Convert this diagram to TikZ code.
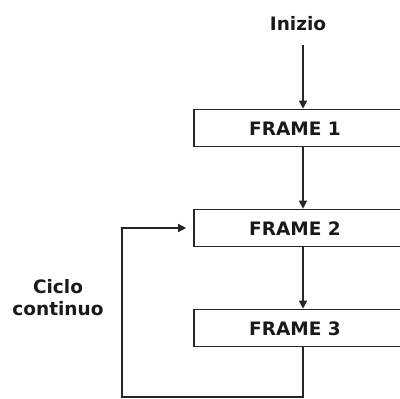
\documentclass[tikz,border=0pt]{standalone}
\usepackage{fontspec}
\setmainfont{DejaVu Sans}
\usetikzlibrary{arrows.meta}
\begin{document}
\begin{tikzpicture}[x=1pt,y=-1pt,
  framebox/.style={draw=black!85, line width=1.6pt, minimum width=218pt, minimum height=37pt, inner sep=0pt},
  lbl/.style={font=\bfseries\fontsize{18.5}{22}\selectfont, inner sep=0pt, text=black!90, anchor=base},
  arr/.style={draw=black!85, line width=1.4pt, -{Triangle[width=8pt,length=8pt]}},
  ln/.style={draw=black!85, line width=1.4pt}]
\useasboundingbox (0,0) rectangle (400,399);
\node[lbl] (ini) at (298,30) {Inizio};
\coordinate (s) at (303,45);
\node[framebox] (f1) at (303,128) {};
\node[framebox] (f2) at (303,228) {};
\node[framebox] (f3) at (303,328) {};
\node[lbl] (t1) at (295,135) {FRAME 1};
\node[lbl] (t2) at (295,235) {FRAME 2};
\node[lbl] (t3) at (295,335) {FRAME 3};
\node[lbl] (cc1) at (58,293) {Ciclo};
\node[lbl] (cc2) at (58,315) {continuo};
\coordinate (lc) at (122,397);
\draw[arr] (s) -- (f1.north);
\draw[arr] (f1.south) -- (f2.north);
\draw[arr] (f2.south) -- (f3.north);
\draw[arr, shorten >=7pt] (f3.south) |- (lc) |- (f2.west);
\end{tikzpicture}
\end{document}
